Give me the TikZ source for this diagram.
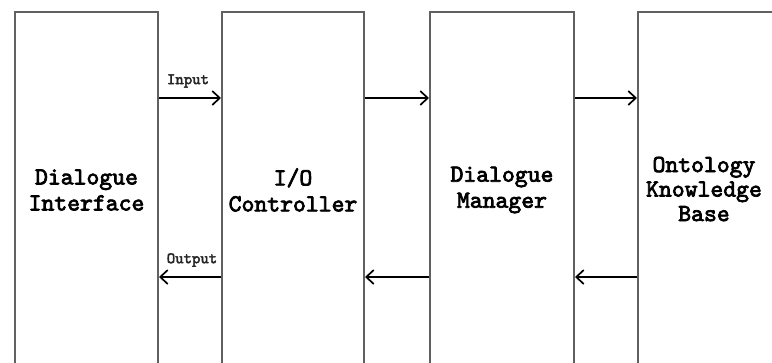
\documentclass[tikz,border=0pt]{standalone}
\usepackage{fontspec}
\newfontfamily\monobold{lmmono10-regular}[Extension=.otf, FakeBold=3]
\newfontfamily\monolab{lmmono10-regular}[Extension=.otf, FakeBold=2.6]
\usetikzlibrary{arrows.meta}
\tikzset{
  box/.style={draw=black!62, line width=2pt, rectangle, anchor=north west, minimum height=356pt,
    align=center, inner sep=0pt, font=\monobold\fontsize{24.5}{26}\selectfont},
  arr/.style={draw=black, line width=1.7pt, -{Straight Barb[length=7.5pt,width=14pt,line width=1.7pt]}},
  lab/.style={font=\monolab\fontsize{16}{18}\selectfont, inner sep=0pt, text=black!85}
}
\begin{document}
\begin{tikzpicture}[x=1pt,y=-1pt]
\useasboundingbox (0,0) rectangle (772,362);
\fill[white] (0,0) rectangle (772,362);
\clip (0,0) rectangle (772,362);
\node[box, minimum width=143pt] (di) at (14,11) {Dialogue\\Interface};
\node[box, minimum width=142pt] (io) at (221,11) {I/O\\Controller};
\node[box, minimum width=144pt] (dm) at (429,11) {Dialogue\\Manager};
\node[box, minimum width=150pt] (kb) at (637,11) {};
\node[font=\monobold\fontsize{24.5}{24.5}\selectfont, align=center, inner sep=0pt] (kbt) at (704,189) {Ontology\\Knowledge\\Base};
\coordinate (top) at (0,98);
\coordinate (bot) at (0,277);
\draw[arr] (di.east |- top) -- (io.west |- top);
\draw[arr] (io.east |- top) -- (dm.west |- top);
\draw[arr] (dm.east |- top) -- (kb.west |- top);
\draw[arr] (io.west |- bot) -- (di.east |- bot);
\draw[arr] (dm.west |- bot) -- (io.east |- bot);
\draw[arr] (kb.west |- bot) -- (dm.east |- bot);
\node[lab] (inl) at (188,81) {Input};
\node[lab] (outl) at (192,260) {Output};
\end{tikzpicture}
\end{document}
